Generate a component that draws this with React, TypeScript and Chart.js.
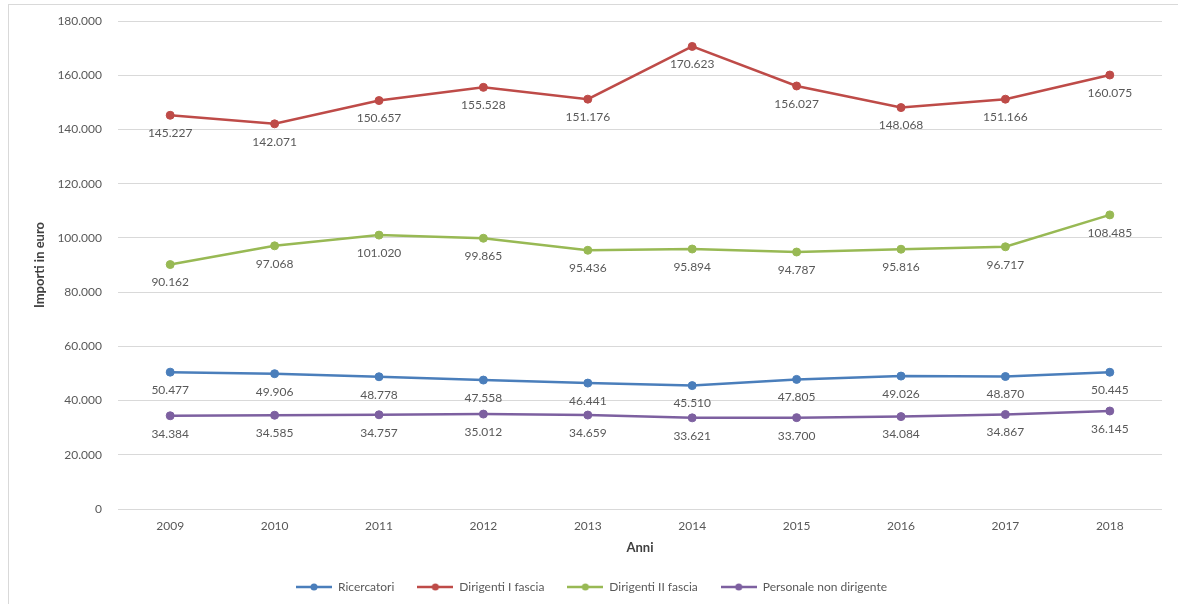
import { useEffect, useRef } from "react";
import { Chart, registerables } from "chart.js";

Chart.register(...registerables);

// Years on the category axis
const years = ["2009", "2010", "2011", "2012", "2013", "2014", "2015", "2016", "2017", "2018"];

// Average amounts (euro) per staff category
const ricercatori = [50477, 49906, 48778, 47558, 46441, 45510, 47805, 49026, 48870, 50445];
const dirigentiPrimaFascia = [145227, 142071, 150657, 155528, 151176, 170623, 156027, 148068, 151166, 160075];
const dirigentiSecondaFascia = [90162, 97068, 101020, 99865, 95436, 95894, 94787, 95816, 96717, 108485];
const personaleNonDirigente = [34384, 34585, 34757, 35012, 34659, 33621, 33700, 34084, 34867, 36145];

const seriesNames = ["Ricercatori", "Dirigenti I fascia", "Dirigenti II fascia", "Personale non dirigente"];
const seriesColors = ["#4A7EBB", "#BE4B48", "#98B954", "#7D60A0"];

// Value axis range
const yMin = 0;
const yMax = 180000;
const yStep = 20000;

const FONT = "Lato, 'Open Sans', sans-serif";
const TEXT_GREY = "#595959";

// Italian-style thousands separator: 145227 -> "145.227"
function formatIt(n: number): string {
  return String(Math.round(n)).replace(/\B(?=(\d{3})+(?!\d))/g, ".");
}

// Legend marker: short line with a dot in the middle
function legendMarker(color: string): HTMLCanvasElement {
  const c = document.createElement("canvas");
  c.width = 36;
  c.height = 10;
  const ctx = c.getContext("2d")!;
  ctx.strokeStyle = color;
  ctx.lineWidth = 2.5;
  ctx.beginPath();
  ctx.moveTo(0, 5);
  ctx.lineTo(36, 5);
  ctx.stroke();
  ctx.fillStyle = color;
  ctx.beginPath();
  ctx.arc(18, 5, 3.5, 0, Math.PI * 2);
  ctx.fill();
  return c;
}

// Writes each point's value just below the marker
const valueLabels = {
  id: "valueLabels",
  afterDatasetsDraw(chart: any) {
    const ctx = chart.ctx as CanvasRenderingContext2D;
    ctx.save();
    ctx.font = `12px ${FONT}`;
    ctx.fillStyle = TEXT_GREY;
    ctx.textAlign = "center";
    ctx.textBaseline = "middle";
    chart.data.datasets.forEach((ds: any, i: number) => {
      const meta = chart.getDatasetMeta(i);
      meta.data.forEach((pt: any, j: number) => {
        ctx.fillText(formatIt(ds.data[j]), pt.x, pt.y + 18);
      });
    });
    ctx.restore();
  },
};

export default function App() {
  const canvasRef = useRef<HTMLCanvasElement | null>(null);

  useEffect(() => {
    const canvas = canvasRef.current;
    if (!canvas) return;
    const seriesData = [ricercatori, dirigentiPrimaFascia, dirigentiSecondaFascia, personaleNonDirigente];
    const markers = seriesColors.map((c) => legendMarker(c));

    const chart = new Chart(canvas, {
      type: "line",
      data: {
        labels: years,
        datasets: seriesData.map((data, i) => ({
          label: seriesNames[i],
          data,
          borderColor: seriesColors[i],
          backgroundColor: seriesColors[i],
          borderWidth: 2.5,
          pointRadius: 4,
          pointBackgroundColor: seriesColors[i],
          pointBorderColor: seriesColors[i],
          pointBorderWidth: 1,
          tension: 0,
          fill: false,
        })),
      },
      options: {
        responsive: false,
        animation: false,
        layout: { padding: { left: 12, right: 16, top: 16, bottom: 1 } },
        plugins: {
          tooltip: { enabled: false },
          legend: {
            position: "bottom",
            labels: {
              usePointStyle: true,
              pointStyleWidth: 36,
              boxHeight: 12,
              padding: 23,
              color: TEXT_GREY,
              font: { family: FONT, size: 12 },
              generateLabels: (ch: any) =>
                (Chart.defaults.plugins.legend.labels as any)
                  .generateLabels(ch)
                  .map((item: any) => ({ ...item, pointStyle: markers[item.datasetIndex] })),
            },
          },
        },
        scales: {
          x: {
            offset: true,
            grid: { display: false, drawTicks: false },
            border: { display: false },
            ticks: { color: TEXT_GREY, font: { family: FONT, size: 12 }, padding: 10 },
            title: {
              display: true,
              text: "Anni",
              color: "#404040",
              font: { family: FONT, size: 13, weight: "bold" },
              padding: { top: 0, bottom: 2 },
            },
            afterFit: (scale: any) => {
              scale.height = 49;
            },
          },
          y: {
            min: yMin,
            max: yMax,
            grid: { color: "#d9d9d9", drawTicks: false },
            border: { display: false },
            ticks: {
              stepSize: yStep,
              padding: 16,
              color: TEXT_GREY,
              font: { family: FONT, size: 12 },
              callback: (v: any) => formatIt(Number(v)),
            },
            title: {
              display: true,
              text: "Importi in euro",
              color: "#404040",
              font: { family: FONT, size: 13, weight: "bold" },
              padding: { top: 11, bottom: 0 },
            },
            afterFit: (scale: any) => {
              scale.width = 97;
              // only half a label height is needed above the top tick
              scale.paddingTop = 7;
              scale.paddingBottom = 7;
            },
          },
        },
      } as any,
      plugins: [valueLabels],
    });

    return () => chart.destroy();
  }, []);

  return (
    <div
      style={{
        position: "absolute",
        left: 8,
        top: 4,
        width: 1169,
        height: 599,
        borderLeft: "1px solid #d9d9d9",
        borderTop: "1px solid #d9d9d9",
        background: "#ffffff",
      }}
    >
      <canvas ref={canvasRef} width={1169} height={599} style={{ display: "block" }} />
    </div>
  );
}
